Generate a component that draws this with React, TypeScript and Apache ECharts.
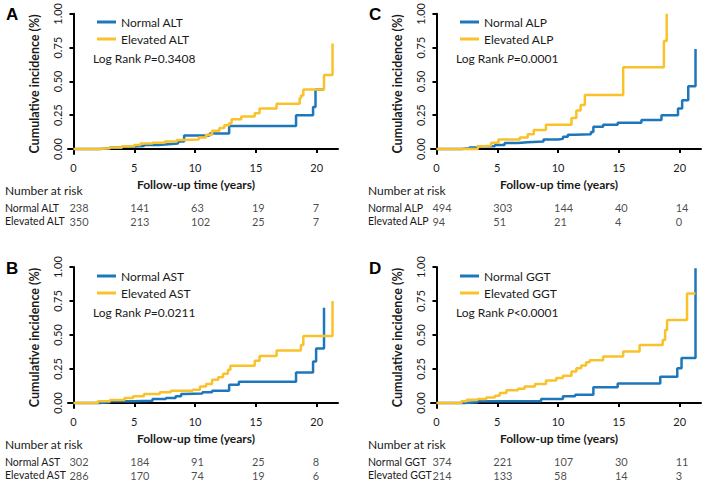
import React, { useEffect, useRef } from 'react';
import * as echarts from 'echarts';

const yearTicks = [0, 5, 10, 15, 20];
const incidenceTicks = [0, 0.25, 0.5, 0.75, 1];

const normalALT = [[0,0],[2.2,0.005],[3.0,0.012],[4.0,0.018],[5.0,0.022],[5.8,0.03],[7.0,0.035],[7.8,0.04],[8.6,0.055],[9.1,0.1],[11.2,0.115],[12.8,0.17],[18.3,0.25],[19.7,0.31],[19.9,0.44],[20.6,0.44]];
const elevatedALT = [[0,0],[2.0,0.005],[3.0,0.012],[4.0,0.02],[5.0,0.03],[5.5,0.04],[6.5,0.047],[7.5,0.055],[8.5,0.066],[9.0,0.07],[10.3,0.085],[10.9,0.105],[11.4,0.135],[12.0,0.155],[12.4,0.175],[12.8,0.19],[13.0,0.22],[13.8,0.24],[14.9,0.265],[15.3,0.3],[16.7,0.335],[18.6,0.375],[18.7,0.395],[18.9,0.44],[20.6,0.547],[21.3,0.78]];
const normalAST = [[0,0],[2.1,0.005],[3.0,0.012],[4.9,0.017],[6.5,0.03],[7.6,0.037],[8.4,0.05],[8.85,0.066],[9.1,0.07],[10.6,0.078],[11.4,0.09],[12.8,0.134],[13.6,0.156],[18.3,0.224],[19.7,0.305],[19.95,0.4],[20.6,0.7]];
const elevatedAST = [[0,0],[2.0,0.012],[3.0,0.022],[4.2,0.037],[4.9,0.05],[5.8,0.066],[7.1,0.078],[8.0,0.09],[9.8,0.098],[10.4,0.122],[10.9,0.14],[11.4,0.17],[11.9,0.19],[12.3,0.215],[12.7,0.244],[12.9,0.273],[14.9,0.31],[15.3,0.346],[16.7,0.385],[18.7,0.427],[18.9,0.493],[21.3,0.75]];
const normalALP = [[0,0],[2.05,0.005],[2.7,0.012],[3.4,0.02],[4.8,0.03],[5.6,0.045],[6.7,0.05],[7.5,0.055],[8.8,0.07],[10.0,0.075],[10.4,0.09],[10.8,0.105],[11.4,0.11],[12.7,0.125],[12.9,0.165],[13.7,0.18],[14.9,0.195],[16.85,0.215],[18.5,0.25],[19.86,0.3],[20.2,0.36],[20.7,0.465],[21.3,0.74]];
const elevatedALP = [[0,0],[3.4,0.02],[3.9,0.025],[4.5,0.047],[5.1,0.07],[6.85,0.086],[7.5,0.11],[8.0,0.14],[9.0,0.18],[11.1,0.23],[11.5,0.285],[11.85,0.325],[12.2,0.4],[15.35,0.605],[18.7,0.8],[18.93,1.0]];
const normalGGT = [[0,0],[2.3,0.005],[3.4,0.012],[8.6,0.03],[10.4,0.05],[11.4,0.06],[12.9,0.115],[14.9,0.144],[18.4,0.193],[19.8,0.256],[20.15,0.33],[21.3,0.99]];
const elevatedGGT = [[0,0],[2.05,0.012],[2.5,0.024],[3.4,0.03],[4.1,0.04],[4.8,0.054],[5.2,0.073],[5.75,0.093],[6.7,0.105],[7.25,0.122],[8.1,0.14],[9.0,0.166],[9.85,0.183],[10.4,0.2],[11.1,0.232],[11.5,0.256],[11.9,0.276],[12.3,0.3],[12.6,0.315],[13.7,0.341],[15.35,0.378],[16.7,0.427],[18.6,0.463],[18.8,0.537],[18.96,0.61],[20.6,0.805],[21.3,0.805]];

const riskNormalALT = [238, 141, 63, 19, 7];
const riskElevatedALT = [350, 213, 102, 25, 7];
const riskNormalAST = [302, 184, 91, 25, 8];
const riskElevatedAST = [286, 170, 74, 19, 6];
const riskNormalALP = [494, 303, 144, 40, 14];
const riskElevatedALP = [94, 51, 21, 4, 0];
const riskNormalGGT = [374, 221, 107, 30, 11];
const riskElevatedGGT = [214, 133, 58, 14, 3];

const panels = [
  { letter: 'A', marker: 'ALT', p: '=0.3408', normal: normalALT, elevated: elevatedALT, riskN: riskNormalALT, riskE: riskElevatedALT, ox: 0, oy: 0 },
  { letter: 'C', marker: 'ALP', p: '=0.0001', normal: normalALP, elevated: elevatedALP, riskN: riskNormalALP, riskE: riskElevatedALP, ox: 363, oy: 0 },
  { letter: 'B', marker: 'AST', p: '=0.0211', normal: normalAST, elevated: elevatedAST, riskN: riskNormalAST, riskE: riskElevatedAST, ox: 0, oy: 254 },
  { letter: 'D', marker: 'GGT', p: '<0.0001', normal: normalGGT, elevated: elevatedGGT, riskN: riskNormalGGT, riskE: riskElevatedGGT, ox: 363, oy: 254 },
];

const BLUE = '#1f77bb';
const YELLOW = '#f9c22b';
const TEXT = '#1a1a1a';
const FONT = 'Lato, "Noto Sans", sans-serif';

function buildOption() {
  const grid: any[] = [];
  const xAxis: any[] = [];
  const yAxis: any[] = [];
  const series: any[] = [];
  const legend: any[] = [];
  const graphic: any[] = [];

  panels.forEach((pn, i) => {
    const nName = 'Normal ' + pn.marker;
    const eName = 'Elevated ' + pn.marker;
    const gi = i * 2;
    grid.push({ left: 68 + pn.ox, top: 13 + pn.oy, width: 270, height: 141 });
    grid.push({ left: 68 + pn.ox, top: 201 + pn.oy, width: 270, height: 27 });

    xAxis.push({
      gridIndex: gi, type: 'value', min: -0.45, max: 21.75,
      axisLine: { show: true, lineStyle: { color: '#000', width: 2 } },
      axisTick: { show: true, length: 4, lineStyle: { color: '#000', width: 2 }, customValues: yearTicks },
      axisLabel: { customValues: yearTicks, fontSize: 11, color: TEXT, fontFamily: FONT, margin: 8 },
      splitLine: { show: false },
    });
    xAxis.push({ gridIndex: gi + 1, type: 'value', min: -0.45, max: 21.75, show: false });

    yAxis.push({
      gridIndex: gi, type: 'value', min: -0.037, max: 1,
      axisLine: { show: true, lineStyle: { color: '#000', width: 2 } },
      axisTick: { show: true, length: 4, lineStyle: { color: '#000', width: 2 }, customValues: incidenceTicks },
      axisLabel: { customValues: incidenceTicks, rotate: 90, fontSize: 11, color: TEXT, fontFamily: FONT, margin: 5, formatter: (v: number) => v.toFixed(2) },
      splitLine: { show: false },
      name: 'Cumulative incidence (%)', nameLocation: 'middle', nameGap: 27,
      nameTextStyle: { fontSize: 12.5, fontWeight: 'bold', color: TEXT, fontFamily: FONT },
    });
    yAxis.push({
      gridIndex: gi + 1, type: 'category', inverse: true, data: [nName, eName],
      axisLine: { show: false }, axisTick: { show: false },
      axisLabel: { interval: 0, align: 'left', margin: 63, fontSize: 10.5, color: TEXT, fontFamily: FONT },
    });

    series.push({
      name: nName, type: 'line', xAxisIndex: gi, yAxisIndex: gi, step: 'end', symbol: 'none',
      data: pn.normal, lineStyle: { width: 2.5, color: BLUE }, itemStyle: { color: BLUE }, z: 2,
    });
    series.push({
      name: eName, type: 'line', xAxisIndex: gi, yAxisIndex: gi, step: 'end', symbol: 'none',
      data: pn.elevated, lineStyle: { width: 2.5, color: YELLOW }, itemStyle: { color: YELLOW }, z: 3,
    });
    const riskLabel = {
      show: true, position: [-3, 1], align: 'left', verticalAlign: 'middle',
      formatter: (p: any) => String(p.value[2]), fontSize: 11, color: TEXT, fontFamily: FONT,
    };
    series.push({
      name: 'risk ' + nName, type: 'scatter', xAxisIndex: gi + 1, yAxisIndex: gi + 1, symbolSize: 2,
      itemStyle: { color: 'rgba(0,0,0,0)' }, label: riskLabel, labelLayout: { hideOverlap: false },
      data: yearTicks.map((t, k) => [t, 0, pn.riskN[k]]),
    });
    series.push({
      name: 'risk ' + eName, type: 'scatter', xAxisIndex: gi + 1, yAxisIndex: gi + 1, symbolSize: 2,
      itemStyle: { color: 'rgba(0,0,0,0)' }, label: riskLabel, labelLayout: { hideOverlap: false },
      data: yearTicks.map((t, k) => [t, 1, pn.riskE[k]]),
    });

    legend.push({
      data: [nName, eName], orient: 'vertical', left: 97 + pn.ox, top: 15 + pn.oy,
      icon: 'rect', itemWidth: 19, itemHeight: 3, itemGap: 3, padding: 0,
      textStyle: { fontSize: 12, color: TEXT, fontFamily: FONT, lineHeight: 14 },
      selectedMode: false,
    });

    graphic.push({
      type: 'text', left: 6 + pn.ox, top: 6 + pn.oy,
      style: { text: pn.letter, font: 'bold 17px "Liberation Sans", Arial, sans-serif', fill: '#000' },
    });
    graphic.push({
      type: 'text', x: 93 + pn.ox, y: 58 + pn.oy,
      style: {
        text: 'Log Rank {i|P}' + pn.p, fill: TEXT, fontSize: 12, fontFamily: FONT, textVerticalAlign: 'middle',
        rich: { i: { fontStyle: 'italic', fontSize: 12, fontFamily: FONT, fill: TEXT } },
      },
    });
    graphic.push({
      type: 'text', x: 196 + pn.ox, y: 184 + pn.oy,
      style: { text: 'Follow-up time (years)', fill: TEXT, font: 'bold 12px ' + FONT, textAlign: 'center', textVerticalAlign: 'middle' },
    });
    graphic.push({
      type: 'text', x: 5 + pn.ox, y: 190 + pn.oy,
      style: { text: 'Number at risk', fill: TEXT, font: '12px ' + FONT, textVerticalAlign: 'middle' },
    });
  });

  return { animation: false, backgroundColor: '#fff', grid, xAxis, yAxis, series, legend, graphic };
}

export default function App() {
  const ref = useRef<HTMLDivElement>(null);
  useEffect(() => {
    if (!ref.current) return;
    const chart = echarts.init(ref.current, undefined, { renderer: 'svg' });
    chart.setOption(buildOption() as any);
    return () => chart.dispose();
  }, []);
  return <div ref={ref} style={{ width: 706, height: 484, position: 'absolute', left: 0, top: 0 }} />;
}
